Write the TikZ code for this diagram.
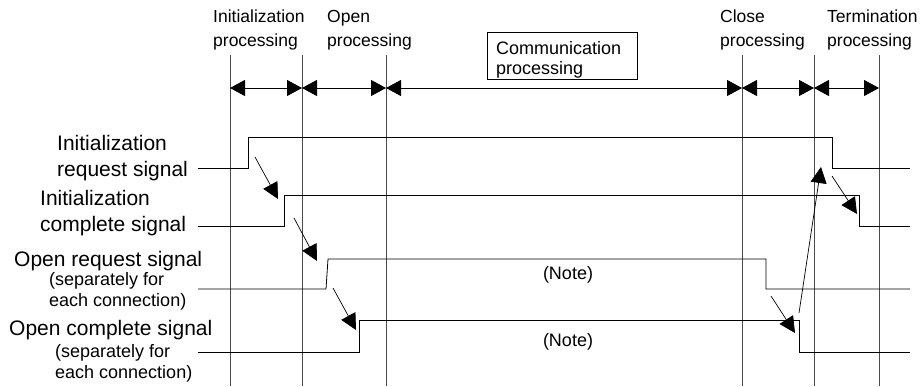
\documentclass[tikz,border=0pt]{standalone}
\usepackage{fontspec}
\setmainfont{Liberation Sans}
\usetikzlibrary{arrows.meta}

\tikzset{
  toplbl/.style={anchor=west, align=left, inner sep=0pt, font=\fontsize{17.5}{24}\selectfont},
  siglbl/.style={anchor=west, align=left, inner sep=0pt, font=\fontsize{21}{26}\selectfont},
  smalllbl/.style={anchor=west, align=left, inner sep=0pt, font=\fontsize{18}{21}\selectfont},
  tick/.style={black!70, line width=0.8pt},
  span/.style={{Triangle[length=15pt,width=16pt]}-{Triangle[length=15pt,width=16pt]}, line width=0.8pt},
  sig/.style={line width=0.8pt},
  cause/.style={-{Triangle[length=16pt,width=16pt]}, line width=0.7pt},
}

\begin{document}
\begin{tikzpicture}[x=1pt, y=-1pt]
    \useasboundingbox (0,0) rectangle (923,386);

    % phase boundaries
    \foreach \t/\x in {0/230, 1/302, 2/386, 3/742, 4/814, 5/879} {
        \draw[tick] (\x,55) -- (\x,386);
        \coordinate (t\t) at (\x,88);
    }
    \draw[span] (t0) -- (t1);
    \draw[span] (t1) -- (t2);
    \draw[span] (t2) -- (t3);
    \draw[span] (t3) -- (t4);
    \draw[span] (t4) -- (t5);

    % phase names
    \node[toplbl] (initproc) at (213,30) {Initialization\\processing};
    \node[toplbl] (openproc) at (327,30) {Open\\processing};
    \node[toplbl] (closeproc) at (720,30) {Close\\processing};
    \node[toplbl] (termproc) at (827,30) {Termination\\processing};
    \draw[line width=0.8pt] (487,32) rectangle (637,79);
    \node[smalllbl, font=\fontsize{18}{20}\selectfont] (commproc) at (496,60) {Communication\\processing};

    % signal names
    \node[siglbl] (initreq) at (57,158) {Initialization\\request signal};
    \node[siglbl] (initdone) at (40,213) {Initialization\\complete signal};
    \node[siglbl] (openreq) at (14,261) {Open request signal};
    \node[smalllbl] (openreqnote) at (49,291) {(separately for\\each connection)};
    \node[siglbl] (opendone) at (9,330) {Open complete signal};
    \node[smalllbl] (opendonenote) at (55,363) {(separately for\\each connection)};

    % signals
    \draw[sig] (198,168) -- (248,168) -- (248,137) -- (832,137) -- (832,168) -- (910,168);
    \draw[sig] (198,226) -- (284,226) -- (284,195) -- (859,195) -- (859,226) -- (910,226);
    \draw[sig] (198,289) -- (326,289) -- (328,259) -- (766,259) -- (766,289) -- (910,289);
    \draw[sig] (198,352) -- (359,352) -- (359,320) -- (799,320) -- (799,352) -- (910,352);

    \node[smalllbl, anchor=center] (note1) at (568,275) {(Note)};
    \node[smalllbl, anchor=center] (note2) at (568,342) {(Note)};

    % handshakes
    \draw[cause] (255,157) -- (278,199);
    \draw[cause] (294,218) -- (317,261);
    \draw[cause] (333,288) -- (356,330);
    \draw[cause] (771,296) -- (795,333);
    \draw[cause] (799,313) -- (821,167);
    \draw[cause] (832,176) -- (857,214);
\end{tikzpicture}
\end{document}
